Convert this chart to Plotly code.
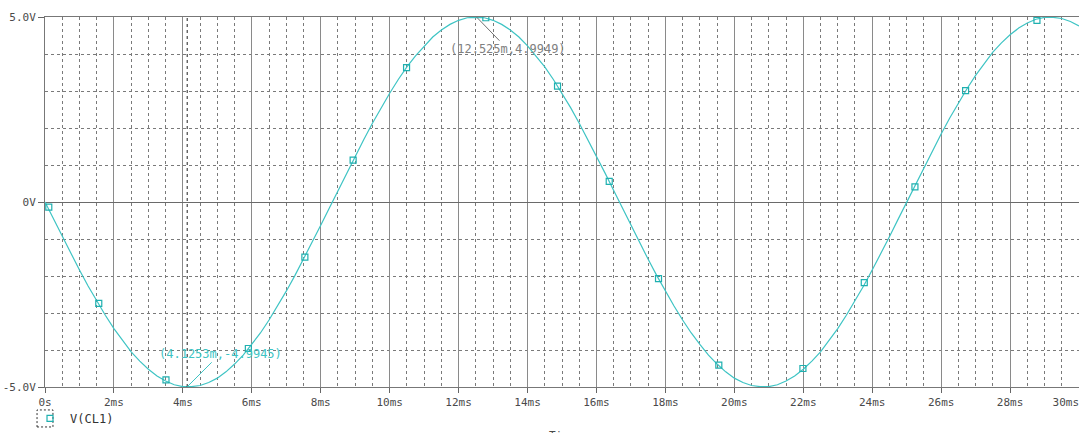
import plotly.graph_objects as go

# Transient result: V(CL1), sampled every 0.25 ms from 0 to 30 ms (volts)
V_CL1 = [
    0.00, -0.47, -0.94, -1.40, -1.84, -2.27, -2.68, -3.06, -3.42, -3.75,
    -4.05, -4.30, -4.52, -4.70, -4.84, -4.94, -4.99, -4.99, -4.96, -4.88,
    -4.76, -4.59, -4.38, -4.14, -3.85, -3.54, -3.19, -2.81, -2.41, -1.99,
    -1.55, -1.09, -0.63, -0.16, 0.31, 0.78, 1.24, 1.69, 2.13, 2.55,
    2.94, 3.31, 3.65, 3.95, 4.22, 4.46, 4.65, 4.80, 4.91, 4.98,
    4.99, 4.98, 4.91, 4.80, 4.65, 4.46, 4.22, 3.95, 3.65, 3.31,
    2.94, 2.55, 2.13, 1.69, 1.24, 0.78, 0.31, -0.16, -0.63, -1.09,
    -1.55, -1.99, -2.41, -2.81, -3.19, -3.54, -3.85, -4.14, -4.38, -4.59,
    -4.76, -4.88, -4.96, -4.99, -4.99, -4.94, -4.84, -4.70, -4.52, -4.30,
    -4.05, -3.75, -3.42, -3.06, -2.68, -2.27, -1.84, -1.40, -0.94, -0.47,
    0.00, 0.47, 0.94, 1.40, 1.84, 2.27, 2.68, 3.06, 3.42, 3.75,
    4.05, 4.30, 4.52, 4.70, 4.84, 4.94, 4.99, 4.99, 4.96, 4.88,
    4.76,
]
T_STEP_MS = 0.25
time_ms = [round(i * T_STEP_MS, 2) for i in range(len(V_CL1))]

# Trace marker symbols placed along the waveform (time in ms, volts)
MARKER_T = [0.11, 1.56, 3.51, 5.90, 7.54, 8.94, 10.49, 12.79, 14.87,
            16.37, 17.80, 19.55, 21.99, 23.77, 25.24, 26.71, 28.78]
MARKER_V = [-0.14, -2.74, -4.81, -3.96, -1.49, 1.13, 3.63, 4.98, 3.13,
            0.56, -2.07, -4.41, -4.50, -2.18, 0.41, 3.01, 4.91]

# Cursor readouts
CURSOR_T = [4.1253, 12.525]
CURSOR_V = [-4.9945, 4.9949]
CURSOR_TEXT = ["(4.1253m,-4.9945)", "(12.525m,4.9949)"]

X_TICKS = [0, 2, 4, 6, 8, 10, 12, 14, 16, 18, 20, 22, 24, 26, 28, 30]
X_LABELS = ["0s", "2ms", "4ms", "6ms", "8ms", "10ms", "12ms", "14ms", "16ms",
            "18ms", "20ms", "22ms", "24ms", "26ms", "28ms", "30ms"]
Y_TICKS = [-5, 0, 5]
Y_LABELS = ["-5.0V", "0V", "5.0V"]
X_TITLE = "Time"

# The last label sits flush against the right edge: pad it on the right so
# the centred text ends at its tick.
NBSP = "\u00a0"
x_text = X_LABELS[:-1] + [X_LABELS[-1] + NBSP * len(X_LABELS[-1])]

TRACE_COLOR = "#3ec4c4"
MARK_COLOR = "#1fb0b0"
GRID = "#7a7a7a"
MONO = "DejaVu Sans Mono"

fig = go.Figure()
fig.add_trace(go.Scatter(
    x=time_ms, y=V_CL1, mode="lines",
    line=dict(color=TRACE_COLOR, width=1.2),
    showlegend=False, hoverinfo="skip",
))
fig.add_trace(go.Scatter(
    x=MARKER_T, y=MARKER_V, mode="markers", name="V(CL1)",
    marker=dict(symbol="square-open", size=6, color=MARK_COLOR,
                line=dict(width=1.2, color=MARK_COLOR)),
))

# Cursor 1 vertical dotted line
fig.add_shape(type="line", xref="x", yref="paper",
              x0=CURSOR_T[0], x1=CURSOR_T[0], y0=0, y1=1,
              line=dict(color="#222222", width=1, dash="dot"), layer="above")

fig.add_annotation(x=CURSOR_T[0], y=CURSOR_V[0], text=CURSOR_TEXT[0],
                   showarrow=True, arrowhead=0, arrowwidth=1,
                   arrowcolor=TRACE_COLOR, ax=33, ay=-33,
                   font=dict(family=MONO, size=12, color=TRACE_COLOR))
fig.add_annotation(x=CURSOR_T[1], y=CURSOR_V[1], text=CURSOR_TEXT[1],
                   showarrow=True, arrowhead=0, arrowwidth=1,
                   arrowcolor="#707070", ax=31, ay=32,
                   font=dict(family=MONO, size=12, color="#808080"))

# Axis title, sitting low against the bottom edge of the page
fig.add_annotation(x=0.5, y=-0.108, xref="paper", yref="paper",
                   text=X_TITLE, showarrow=False, yanchor="top",
                   font=dict(family=MONO, size=11, color="#4a4a4a"))

# Dashed frame around the legend symbol
fig.add_shape(type="rect", xref="paper", yref="paper",
              x0=-0.0077, x1=0.0077, y0=-0.108, y1=-0.062,
              line=dict(color="#333333", width=1, dash="2px,2px"))

fig.update_layout(
    width=1079, height=433,
    margin=dict(l=45, r=0, t=17, b=46),
    paper_bgcolor="white", plot_bgcolor="white",
    font=dict(family=MONO, size=11, color="#4a4a4a"),
    legend=dict(x=-0.0145, y=-0.085, xanchor="left", yanchor="middle",
                orientation="h", bgcolor="rgba(0,0,0,0)", itemwidth=30,
                font=dict(family=MONO, size=12, color="#333333")),
    xaxis=dict(
        range=[0, 30], tickvals=X_TICKS, ticktext=x_text,
        ticklabeloverflow="allow",
        showgrid=True, gridcolor="#8a8a8a", gridwidth=1,
        ticks="outside", ticklen=5, tickcolor="#666666",
        showline=True, linecolor="#777777", linewidth=1, mirror=True,
        zeroline=False,
        minor=dict(dtick=0.5, tick0=0, showgrid=True, gridcolor=GRID,
                   griddash="3px,3px", gridwidth=1),
        tickfont=dict(family=MONO, size=11, color="#4a4a4a"),
        automargin=False,
    ),
    yaxis=dict(
        range=[-5, 5], tickvals=Y_TICKS, ticktext=Y_LABELS,
        showgrid=True, gridcolor="#6a6a6a", gridwidth=1,
        ticks="outside", ticklen=6, tickcolor="#666666",
        showline=True, linecolor="#777777", linewidth=1, mirror=True,
        zeroline=False,
        minor=dict(dtick=1, tick0=0, showgrid=True, gridcolor=GRID,
                   griddash="3px,3px", gridwidth=1),
        tickfont=dict(family=MONO, size=11, color="#4a4a4a"),
        automargin=False,
    ),
)

fig.write_html("out.html")
